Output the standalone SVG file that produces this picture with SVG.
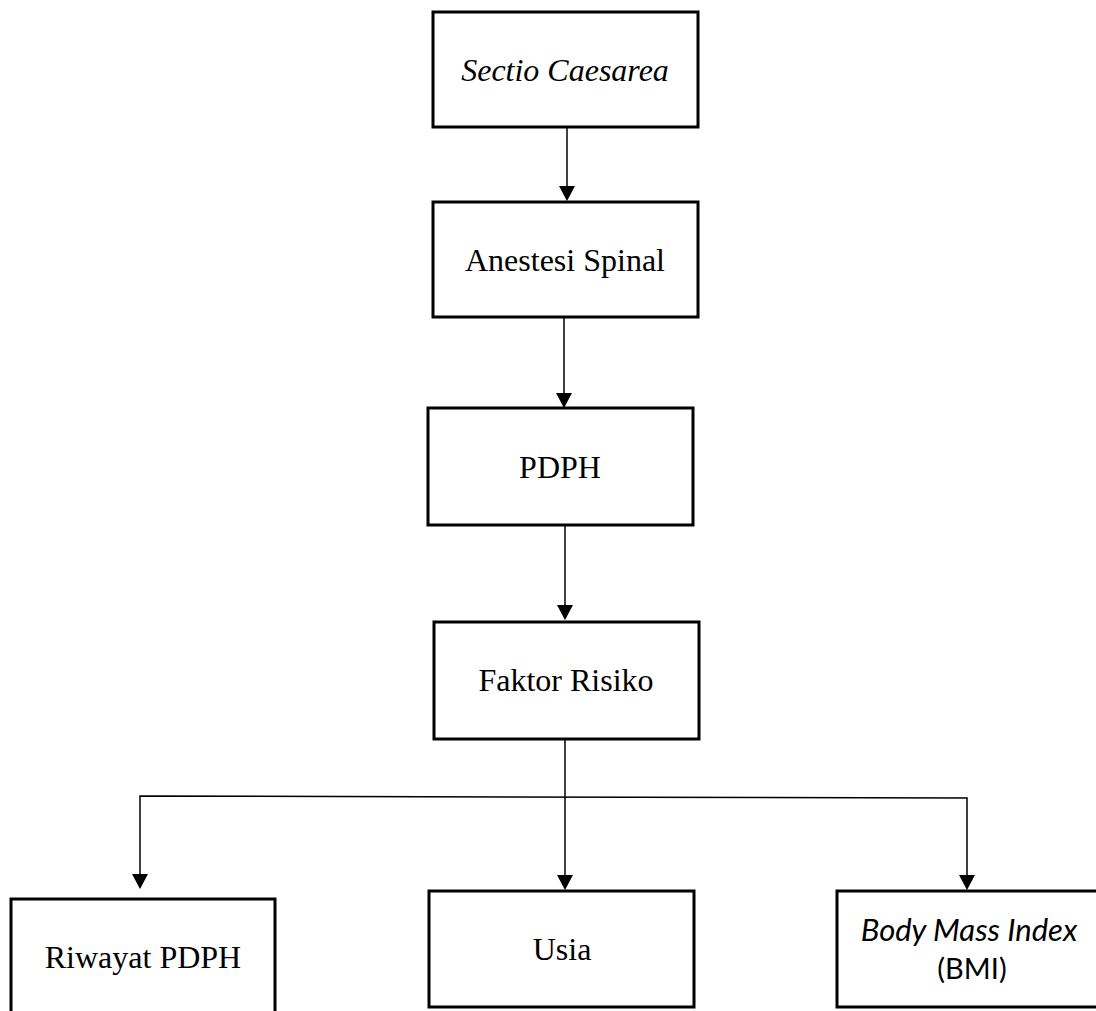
<svg xmlns="http://www.w3.org/2000/svg" width="1096" height="1011" viewBox="0 0 1096 1011">
<style>
.box{fill:#fff;stroke:#000;stroke-width:3}
.t{font-family:"Liberation Serif","Times New Roman",serif;font-size:32px;fill:#000;text-anchor:middle}
.c{font-family:"Lato","Liberation Sans",sans-serif;fill:#000;text-anchor:middle}
.ln{fill:none;stroke:#000;stroke-width:1.5}
.ah{fill:#000}
</style>
<g id="connectors">
<line class="ln" x1="567" y1="127" x2="567" y2="190"/>
<line class="ln" x1="564" y1="317" x2="564" y2="397"/>
<line class="ln" x1="565" y1="525" x2="565" y2="610"/>
<line class="ln" x1="565" y1="739" x2="565" y2="880"/>
<polyline class="ln" points="140,880 140,796 967,798 967,880"/>
<path class="ah" d="M559,186 L575,186 L567,201 Z"/>
<path class="ah" d="M556,393 L572,393 L564,408 Z"/>
<path class="ah" d="M557,605 L573,605 L565,620 Z"/>
<path class="ah" d="M132,874 L148,874 L140,889 Z"/>
<path class="ah" d="M557,875 L573,875 L565,890 Z"/>
<path class="ah" d="M959,875 L975,875 L967,890 Z"/>
</g>
<g id="node-sectio">
<rect class="box" x="433" y="12" width="265" height="115"/>
<text class="t" x="565" y="81" font-style="italic">Sectio Caesarea</text>
</g>
<g id="node-anestesi">
<rect class="box" x="433" y="202" width="265" height="115"/>
<text class="t" x="565" y="271">Anestesi Spinal</text>
</g>
<g id="node-pdph">
<rect class="box" x="428" y="408" width="265" height="117"/>
<text class="t" x="560" y="478">PDPH</text>
</g>
<g id="node-faktor">
<rect class="box" x="434" y="622" width="265" height="117"/>
<text class="t" x="566" y="691">Faktor Risiko</text>
</g>
<g id="node-riwayat">
<rect class="box" x="11" y="899" width="264" height="120"/>
<text class="t" x="143" y="968">Riwayat PDPH</text>
</g>
<g id="node-usia">
<rect class="box" x="429" y="891" width="265" height="116"/>
<text class="t" x="562" y="960">Usia</text>
</g>
<g id="node-bmi">
<rect class="box" x="837" y="891" width="270" height="116"/>
<text class="c" x="969" y="941" font-size="31" font-style="italic">Body Mass Index</text>
<text class="c" x="972" y="979" font-size="29">(BMI)</text>
</g>
</svg>
